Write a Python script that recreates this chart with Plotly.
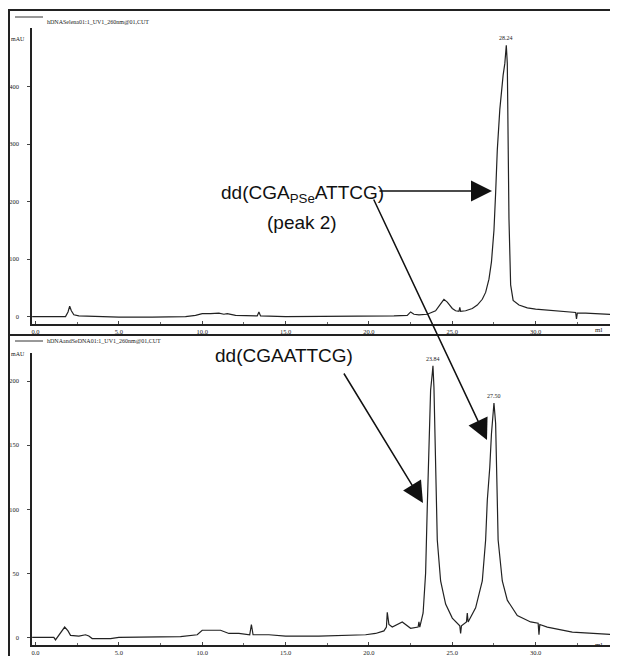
import plotly.graph_objects as go

# page body has an 8px margin, so the figure is drawn at (8, 8) in the window
OFF = 8
W, H = 618 - OFF, 656 - OFF

# ---- data (retention volume in ml, absorbance in mAU) ----
top_x = [-0.2, 0.0, 1.8, 1.95, 2.05, 2.15, 2.3, 2.6, 3.5, 5.0, 7.0, 9.0, 9.6, 10.0, 10.5, 11.0, 11.3,
         11.5, 12.0, 13.0, 13.3, 13.4, 13.5, 15.0, 18.0, 20.0, 21.5, 22.3, 22.5, 22.7, 23.0, 23.5,
         24.0, 24.3, 24.5, 24.7, 25.0, 25.2, 25.4, 25.45, 25.5, 25.8, 26.2, 26.5, 26.8, 27.0, 27.2,
         27.35, 27.5, 27.6, 27.7, 27.85, 27.95, 28.05, 28.15, 28.2, 28.24, 28.3, 28.35, 28.4, 28.5,
         28.65, 29.0, 29.5, 30.0, 31.0, 32.0, 32.4, 32.45, 32.5, 33.0, 34.0, 34.95]
top_y = [0, 0, 0, 8, 18, 10, 3, 1, 0, -1, -1, 0, 2, 5, 5, 6, 4,
         5, 2, 1, 1, 8, 1, 0, 0, 1, 1, 2, 8, 4, 3, 4,
         10, 22, 30, 25, 14, 10, 9, 16, 9, 10, 14, 20, 30, 42, 65,
         95, 150, 215, 290, 360, 395, 420, 440, 465, 472, 440, 300, 170, 55,
         28, 20, 15, 13, 10, 8, 7, -4, 6, 6, 4, 3]

bot_x = [-0.2, 0.0, 1.1, 1.2, 1.5, 1.75, 1.95, 2.1, 2.6, 3.0, 3.2, 3.4, 4.5, 5.0, 8.7, 9.7, 10.0,
         11.1, 11.6, 12.2, 12.85, 12.95, 13.05, 14.0, 15.0, 17.0, 19.8, 20.4, 20.9, 21.05, 21.1,
         21.2, 21.4, 22.0, 22.5, 22.95, 23.0, 23.05, 23.25, 23.4, 23.5, 23.6, 23.7, 23.8, 23.84,
         23.9, 24.0, 24.1, 24.3, 24.6, 25.0, 25.45, 25.5, 25.55, 25.85, 25.9, 25.95, 26.4, 26.8,
         27.0, 27.1, 27.25, 27.35, 27.45, 27.5, 27.6, 27.7, 27.75, 28.0, 28.3, 28.9, 29.7, 30.15,
         30.2, 30.25, 30.7, 32.2, 33.9, 34.95]
bot_y = [0, 0, 0, -2, 4, 8, 5, 1.5, 1, 2, 1, -1, -1, 0, 0.5, 2, 5.5,
         5.5, 3, 3, 2, 10, 2, 2, 1, 1, 2, 3, 5, 8, 19.5,
         10, 8, 12, 7, 8, 12, 8, 19, 50, 102, 154, 193, 206, 212,
         195, 128, 76, 44, 26, 15, 9, 3, 9, 12, 19, 12, 23, 44,
         76, 107, 133, 159, 177, 183, 167, 115, 76, 44, 29, 17, 12, 11,
         2, 10, 8, 4, 3, 2]

top_peak_x = [28.24]
top_peak_y = [472]
top_peak_labels = ["28.24"]
bot_peak_x = [23.84, 27.50]
bot_peak_y = [212, 183]
bot_peak_labels = ["23.84", "27.50"]

x_ticks = [0, 5, 10, 15, 20, 25, 30]
x_ticktext = ["0.0", "5.0", "10.0", "15.0", "20.0", "25.0", "30.0"]
top_y_ticks = [0, 100, 200, 300, 400]
bot_y_ticks = [0, 50, 100, 150, 200]

top_header = "hDNASelena01:1_UV1_260nm@01,CUT"
bot_header = "hDNAandSeDNA01:1_UV1_260nm@01,CUT"


def px(x):
    return (x - OFF) / W


def py(y):
    return 1 - (y - OFF) / H


fig = go.Figure()
fig.add_trace(go.Scatter(x=top_x, y=top_y, mode="lines", line=dict(color="#222", width=1.2),
                         xaxis="x", yaxis="y", showlegend=False))
fig.add_trace(go.Scatter(x=bot_x, y=bot_y, mode="lines", line=dict(color="#222", width=1.2),
                         xaxis="x2", yaxis="y2", showlegend=False))

tickfont = dict(family="Liberation Serif", size=6.5, color="#222")
xcommon = dict(range=[-0.21, 34.94], domain=[px(32), 1.0], showgrid=False, zeroline=False,
               showline=True, linecolor="#222", linewidth=1.5, tickvals=x_ticks,
               ticktext=x_ticktext, ticks="inside", ticklen=3, tickcolor="#444",
               tickfont=tickfont, ticklabelstandoff=0, automargin=False,
               minor=dict(ticks="inside", dtick=2.5, ticklen=2, tickcolor="#666"))
ycommon = dict(showgrid=False, zeroline=False, showline=True, linecolor="#222", linewidth=1.5,
               ticks="outside", ticklen=3, tickcolor="#444", tickfont=tickfont,
               ticklabelstandoff=7, automargin=False)

fig.update_layout(
    width=W, height=H, margin=dict(l=0, r=0, t=0, b=0, autoexpand=False),
    paper_bgcolor="white", plot_bgcolor="white",
    xaxis=dict(**xcommon, anchor="y"),
    yaxis=dict(**ycommon, range=[-13, 502], domain=[py(324), py(28)], anchor="x",
               tickvals=top_y_ticks),
    xaxis2=dict(**xcommon, anchor="y2"),
    yaxis2=dict(**ycommon, range=[-6, 222], domain=[py(645), py(353)], anchor="x2",
                tickvals=bot_y_ticks),
)

ann = []
# peak labels
for xv, yv, t in zip(top_peak_x, top_peak_y, top_peak_labels):
    ann.append(dict(x=xv, y=yv, xref="x", yref="y", text=t, showarrow=False, yanchor="bottom",
                    yshift=2, font=dict(family="Liberation Serif", size=6, color="#222")))
for xv, yv, t in zip(bot_peak_x, bot_peak_y, bot_peak_labels):
    ann.append(dict(x=xv, y=yv, xref="x2", yref="y2", text=t, showarrow=False, yanchor="bottom",
                    yshift=2, font=dict(family="Liberation Serif", size=6, color="#222")))
# "ml" labels
for yp in (330, 651):
    ann.append(dict(x=px(604), y=py(yp), xref="paper", yref="paper", text="ml", showarrow=False,
                    font=dict(family="Liberation Serif", size=7, color="#222")))
# mAU labels
for yp in (34, 354):
    ann.append(dict(x=px(9), y=py(yp), xref="paper", yref="paper", text="mAU", showarrow=False,
                    xanchor="left", font=dict(family="Liberation Serif", size=6, color="#222")))
# headers
for yp, t in ((17, top_header), (341, bot_header)):
    ann.append(dict(x=px(45), y=py(yp), xref="paper", yref="paper", text=t, showarrow=False,
                    xanchor="left", font=dict(family="Liberation Serif", size=6, color="#222")))

bigfont = dict(family="Liberation Sans", size=19, color="#111")
ann.append(dict(x=px(302), y=py(180), xref="paper", yref="paper", yanchor="top",
                text="dd(CGA<sub>PSe</sub>ATTCG)", showarrow=False, font=bigfont))
ann.append(dict(x=px(302), y=py(210), xref="paper", yref="paper", yanchor="top",
                text="(peak 2)", showarrow=False, font=bigfont))
ann.append(dict(x=px(284), y=py(355), xref="paper", yref="paper",
                text="dd(CGAATTCG)", showarrow=False, font=bigfont))

# arrows (tip at x,y; tail offset ax,ay in pixels)
arrows = [((492, 191), (378, 191)), ((487, 440), (373, 198)), ((423, 503), (343, 372))]
for (tx, ty), (sx, sy) in arrows:
    ann.append(dict(x=px(tx), y=py(ty), xref="paper", yref="paper", text="", showarrow=True,
                    ax=sx - tx, ay=sy - ty, axref="pixel", ayref="pixel",
                    arrowhead=2, arrowsize=2.8, arrowwidth=1.5, arrowcolor="#111", standoff=0))
fig.update_layout(annotations=ann)

# frame and header line segments
shapes = [
    dict(type="rect", xref="paper", yref="paper", x0=px(9), x1=px(619), y0=py(335), y1=py(10),
         line=dict(color="#222", width=2)),
    dict(type="line", xref="paper", yref="paper", x0=px(9), x1=px(9), y0=py(656), y1=py(335),
         line=dict(color="#222", width=2)),
    dict(type="line", xref="paper", yref="paper", x0=px(15), x1=px(43), y0=py(17), y1=py(17),
         line=dict(color="#333", width=1)),
    dict(type="line", xref="paper", yref="paper", x0=px(15), x1=px(43), y0=py(341), y1=py(341),
         line=dict(color="#333", width=1)),
]
fig.update_layout(shapes=shapes)

fig.write_html("out.html")
